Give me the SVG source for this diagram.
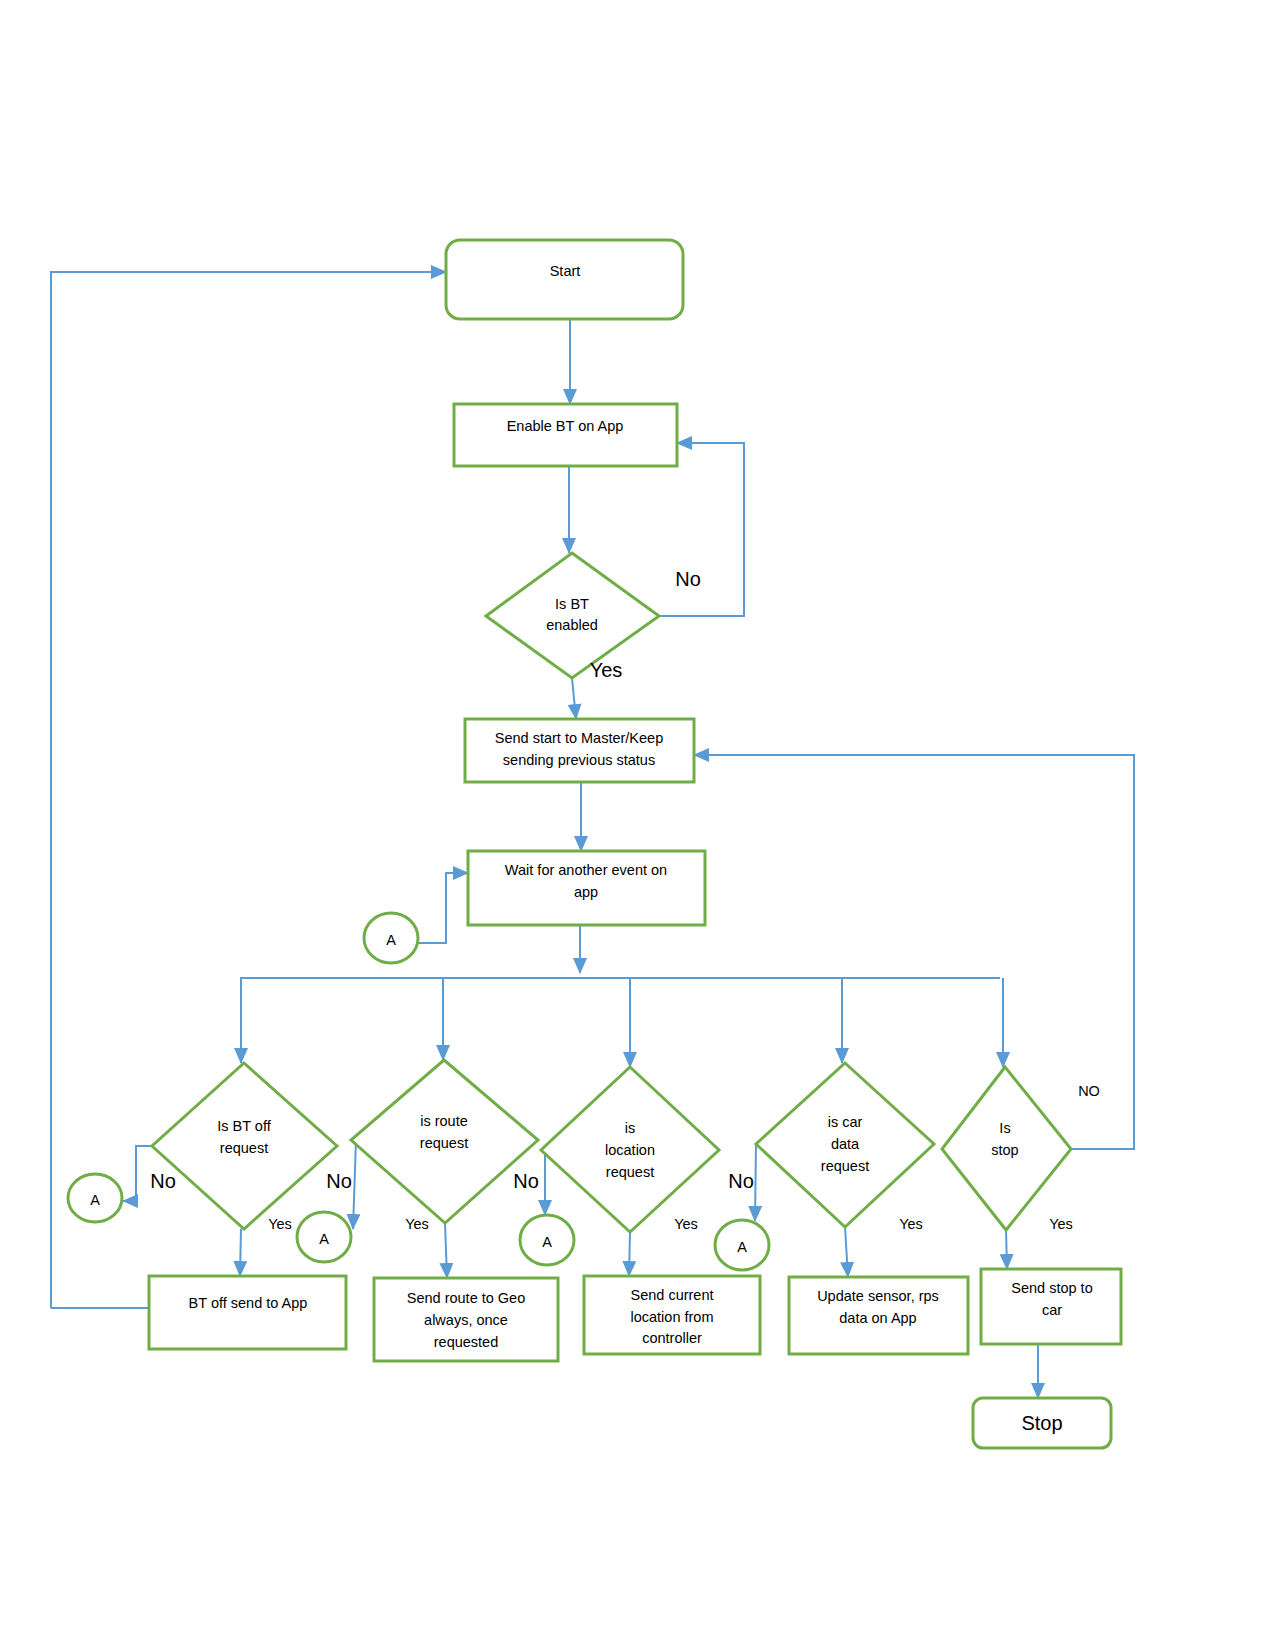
<svg xmlns="http://www.w3.org/2000/svg" width="1275" height="1650" viewBox="0 0 1275 1650">
<style>
.n{fill:#fff;stroke:#70AD47;stroke-width:3}
.c{fill:none;stroke:#5B9BD5;stroke-width:2}
.t{font-family:"Liberation Sans",Arial,sans-serif;font-size:14.5px;fill:#000;text-anchor:middle;dominant-baseline:middle}
.big{font-family:"Liberation Sans",Arial,sans-serif;font-size:20px;fill:#000;text-anchor:middle;dominant-baseline:middle}
</style>
<defs>
<marker id="ah" markerUnits="userSpaceOnUse" markerWidth="16" markerHeight="14" viewBox="0 0 16 14" refX="15" refY="7" orient="auto">
<path d="M0,0 L16,7 L0,14 Z" fill="#5B9BD5"/>
</marker>
</defs>
<rect width="1275" height="1650" fill="#fff"/>
<g id="connectors">
<path class="c" d="M51,1308 H149 M51,1308 V272 H446" marker-end="url(#ah)"/>
<path class="c" d="M570,319 V404" marker-end="url(#ah)"/>
<path class="c" d="M569,466 V553" marker-end="url(#ah)"/>
<path class="c" d="M659,616 H744 V443 H677" marker-end="url(#ah)"/>
<path class="c" d="M572,678 L576,719" marker-end="url(#ah)"/>
<path class="c" d="M581,782 V851" marker-end="url(#ah)"/>
<path class="c" d="M418,943 H446 V873 H468" marker-end="url(#ah)"/>
<path class="c" d="M580,925 V973" marker-end="url(#ah)"/>
<path class="c" d="M240,978 H1000"/>
<path class="c" d="M241,978 V1063" marker-end="url(#ah)"/>
<path class="c" d="M443,978 V1060" marker-end="url(#ah)"/>
<path class="c" d="M630,978 V1067" marker-end="url(#ah)"/>
<path class="c" d="M842,978 V1063" marker-end="url(#ah)"/>
<path class="c" d="M1003,978 V1067" marker-end="url(#ah)"/>
<path class="c" d="M152,1146 H136 V1201 H123" marker-end="url(#ah)"/>
<path class="c" d="M356,1140 L353,1229" marker-end="url(#ah)"/>
<path class="c" d="M545,1150 V1215" marker-end="url(#ah)"/>
<path class="c" d="M756,1144 L755,1221" marker-end="url(#ah)"/>
<path class="c" d="M1071,1149 H1134 V755 H694" marker-end="url(#ah)"/>
<path class="c" d="M241,1229 L240,1276" marker-end="url(#ah)"/>
<path class="c" d="M445,1223 L447,1278" marker-end="url(#ah)"/>
<path class="c" d="M630,1232 L629,1276" marker-end="url(#ah)"/>
<path class="c" d="M845,1227 L848,1277" marker-end="url(#ah)"/>
<path class="c" d="M1006,1230 L1007,1269" marker-end="url(#ah)"/>
<path class="c" d="M1038,1344 V1398" marker-end="url(#ah)"/>
</g>
<g id="start"><rect class="n" x="446" y="240" width="237" height="79" rx="14"/><text class="t" x="565" y="272">Start</text></g>
<g id="enable"><rect class="n" x="454" y="404" width="223" height="62"/><text class="t" x="565" y="427">Enable BT on App</text></g>
<g id="isbt"><polygon class="n" points="572,553 659,616 572,678 486,616"/><text class="t" x="572" y="605">Is BT</text><text class="t" x="572" y="626">enabled</text></g>
<g id="sendstart"><rect class="n" x="465" y="719" width="229" height="63"/><text class="t" x="579" y="739">Send start to Master/Keep</text><text class="t" x="579" y="761">sending previous status</text></g>
<g id="wait"><rect class="n" x="468" y="851" width="237" height="74"/><text class="t" x="586" y="871">Wait for another event on</text><text class="t" x="586" y="893">app</text></g>
<g id="a0"><ellipse class="n" cx="391" cy="938" rx="27" ry="25"/><text class="t" x="391" y="941">A</text></g>
<g id="d1"><polygon class="n" points="244,1063 337,1146 244,1229 152,1146"/><text class="t" x="244" y="1127">Is BT off</text><text class="t" x="244" y="1149">request</text></g>
<g id="a1"><ellipse class="n" cx="95" cy="1198" rx="27" ry="24"/><text class="t" x="95" y="1201">A</text></g>
<g id="b1"><rect class="n" x="149" y="1276" width="197" height="73"/><text class="t" x="248" y="1304">BT off send to App</text></g>
<g id="d2"><polygon class="n" points="444,1060 538,1140 445,1223 351,1140"/><text class="t" x="444" y="1122">is route</text><text class="t" x="444" y="1144">request</text></g>
<g id="a2"><ellipse class="n" cx="324" cy="1237" rx="27" ry="25"/><text class="t" x="324" y="1240">A</text></g>
<g id="b2"><rect class="n" x="374" y="1278" width="184" height="83"/><text class="t" x="466" y="1299">Send route to Geo</text><text class="t" x="466" y="1321">always, once</text><text class="t" x="466" y="1343">requested</text></g>
<g id="d3"><polygon class="n" points="630,1067 719,1150 630,1232 541,1150"/><text class="t" x="630" y="1129">is</text><text class="t" x="630" y="1151">location</text><text class="t" x="630" y="1173">request</text></g>
<g id="a3"><ellipse class="n" cx="547" cy="1240" rx="27" ry="25"/><text class="t" x="547" y="1243">A</text></g>
<g id="b3"><rect class="n" x="584" y="1276" width="176" height="78"/><text class="t" x="672" y="1296">Send current</text><text class="t" x="672" y="1318">location from</text><text class="t" x="672" y="1339">controller</text></g>
<g id="d4"><polygon class="n" points="845,1063 934,1144 845,1227 756,1144"/><text class="t" x="845" y="1123">is car</text><text class="t" x="845" y="1145">data</text><text class="t" x="845" y="1167">request</text></g>
<g id="a4"><ellipse class="n" cx="742" cy="1245" rx="27" ry="25"/><text class="t" x="742" y="1248">A</text></g>
<g id="b4"><rect class="n" x="789" y="1277" width="179" height="77"/><text class="t" x="878" y="1297">Update sensor, rps</text><text class="t" x="878" y="1319">data on App</text></g>
<g id="d5"><polygon class="n" points="1005,1067 1071,1149 1006,1230 942,1149"/><text class="t" x="1005" y="1129">Is</text><text class="t" x="1005" y="1151">stop</text></g>
<g id="b5"><rect class="n" x="981" y="1269" width="140" height="75"/><text class="t" x="1052" y="1289">Send stop to</text><text class="t" x="1052" y="1311">car</text></g>
<g id="stop"><rect class="n" x="973" y="1398" width="138" height="50" rx="10"/><text class="big" x="1042" y="1425">Stop</text></g>
<g id="labels">
<text class="big" x="688" y="581">No</text>
<text class="big" x="606" y="672">Yes</text>
<text class="big" x="163" y="1183">No</text>
<text class="big" x="339" y="1183">No</text>
<text class="big" x="526" y="1183">No</text>
<text class="big" x="741" y="1183">No</text>
<text class="t" x="280" y="1225">Yes</text>
<text class="t" x="417" y="1225">Yes</text>
<text class="t" x="686" y="1225">Yes</text>
<text class="t" x="911" y="1225">Yes</text>
<text class="t" x="1061" y="1225">Yes</text>
<text class="t" x="1089" y="1092">NO</text>
</g>
</svg>
